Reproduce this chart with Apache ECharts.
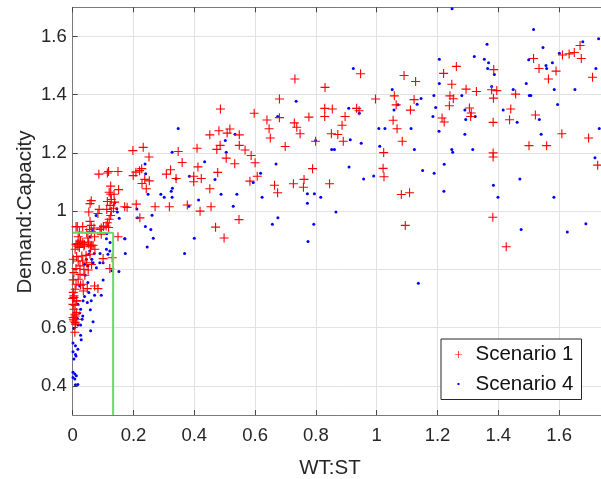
<!DOCTYPE html>
<html>
<head>
<meta charset="utf-8">
<script src="https://cdn.jsdelivr.net/npm/echarts@6/dist/echarts.min.js"></script>
<style>html,body{margin:0;padding:0;background:#fff;}#c{width:601px;height:479px;}</style>
</head>
<body>
<div id="c"></div>
<script>
// ---- data (WT:ST, Demand:Capacity) ----
const seriesNames = ['Scenario 1', 'Scenario 4'];
const xTitle = 'WT:ST';
const yTitle = 'Demand:Capacity';

const scenario1 = [
[0.731,1.454],[0.830,1.425],[0.947,1.472],[1.090,1.466],[1.128,1.445],[1.262,1.497],[1.220,1.473],[1.247,1.436],[1.294,1.419],[1.328,1.411],
[1.385,1.486],[1.378,1.417],[1.395,1.414],[1.384,1.388],[1.457,1.402],[1.516,1.524],[1.534,1.490],[1.565,1.454],[1.590,1.481],[1.611,1.536],
[1.633,1.540],[1.650,1.545],[1.669,1.569],[1.673,1.524],[1.710,1.460],[1.697,1.251],[1.727,1.158],[1.609,1.266],[1.559,1.225],[1.501,1.225],
[1.522,1.330],[1.441,1.351],[1.437,1.314],[1.383,1.305],[1.383,1.200],[1.383,1.186],[1.311,1.337],[1.305,1.354],[1.309,1.325],[1.239,1.362],
[1.215,1.320],[1.222,1.306],[1.241,1.396],[1.252,1.386],[1.123,1.383],[1.111,1.347],[1.058,1.396],[1.064,1.365],[1.054,1.312],[1.067,1.283],
[1.084,1.240],[0.996,1.385],[0.934,1.353],[0.942,1.345],[0.896,1.325],[0.886,1.295],[0.851,1.266],[0.872,1.263],[0.890,1.240],[0.829,1.353],
[0.854,1.351],[0.829,1.325],[0.777,1.323],[0.729,1.303],[0.737,1.288],[0.748,1.266],[0.799,1.240],[0.699,1.222],[0.680,1.385],[0.680,1.321],
[0.639,1.313],[0.646,1.283],[0.650,1.251],[0.597,1.336],[0.486,1.351],[0.451,1.262],[0.481,1.276],[0.508,1.268],[0.517,1.282],[0.548,1.262],
[0.485,1.226],[0.474,1.212],[0.548,1.226],[0.567,1.210],[0.505,1.182],[0.533,1.163],[0.587,1.191],[0.600,1.166],[0.607,1.120],[0.583,1.103],
[0.477,1.133],[0.451,1.077],[0.409,1.216],[0.412,1.152],[0.398,1.120],[0.423,1.112],[0.398,1.101],[0.360,1.167],[0.347,1.205],[0.322,1.142],
[0.308,1.127],[0.340,1.112],[0.664,1.089],[0.674,1.063],[0.726,1.094],[0.761,1.109],[0.759,1.082],[0.789,1.146],[0.845,1.094],[1.023,1.201],
[1.021,1.147],[1.024,1.118],[1.081,1.057],[1.108,1.063],
[1.094,0.951],[1.382,0.979],[1.426,0.878],[0.271,1.015],[0.318,1.015],[0.377,1.021],[0.419,1.000],[0.455,1.015],[0.470,0.945],[0.498,0.908],[0.547,0.971],
[0.232,1.219],[0.251,1.186],[0.198,1.208],[0.227,1.146],[0.220,1.139],[0.208,1.134],[0.199,1.122],[0.237,1.109],[0.252,1.104],[0.242,1.077],[0.209,1.024],[0.221,0.977],
[0.086,1.127],[0.118,1.136],[0.149,1.136],[0.114,1.131],[0.228,1.095],[0.125,1.086],[0.151,1.074],[0.120,1.065],[0.125,1.058],[0.136,1.058],
[0.061,1.036],[0.057,1.026],[0.114,1.033],[0.127,1.040],[0.138,1.031],[0.123,1.020],[0.134,1.010],[0.112,1.006],[0.127,0.999],[0.171,1.015],
[0.179,1.013],[0.053,0.997],[0.087,1.006],[0.083,0.992],[0.125,0.985],[0.120,0.972],[0.114,0.960],[0.057,0.965],[0.061,0.951],[0.015,0.947],
[0.033,0.947],[0.070,0.942],[0.094,0.942],[0.110,0.949],[0.118,0.944],[0.149,0.912],[0.022,0.928],[0.046,0.926],[0.050,0.908],[0.024,0.894],
[0.072,0.912],[0.094,0.921],[0.061,0.930],[0.017,0.880],[0.039,0.885],[0.061,0.883],
[0.017,0.889],[0.033,0.892],[0.053,0.887],[0.067,0.883],[0.100,0.837],[0.122,0.803],[0.130,0.840],[0.083,0.734],[0.072,0.743],[0.048,0.734],
[0.034,0.749],[0.004,0.709],[0.000,0.700],[0.012,0.692],[0.001,0.680],[0.007,0.646],[0.001,0.635],[0.012,0.629],[0.004,0.623],[0.009,0.612],[0.007,0.584],
[0.018,0.912],[0.026,0.897],[0.011,0.886],[0.008,0.869],[0.022,0.875],[0.037,0.880],[0.051,0.894],[0.059,0.878],[0.073,0.869],[0.057,0.852],
[0.044,0.848],[0.030,0.846],[0.013,0.844],[0.002,0.835],[0.018,0.829],[0.033,0.829],[0.046,0.823],[0.062,0.817],[0.024,0.812],[0.011,0.803],
[0.037,0.800],[0.051,0.798],[0.004,0.789],[0.024,0.783],[0.040,0.780],[0.018,0.766],[0.002,0.764],[0.011,0.749],[0.026,0.746],[0.008,0.732],
[0.035,0.726],[0.002,0.721],[0.004,0.703],[0.013,0.692],[0.008,0.677],[0.004,0.663],[0.013,0.652],[0.008,0.640],[0.002,0.629],[0.008,0.618],
[0.011,0.947],[0.055,0.937],[0.090,0.937],[0.101,0.947]
];

const scenario4 = [
[0.111,0.869],[0.122,0.863],[0.116,0.852],[0.089,0.823],[0.100,0.823],[0.056,0.863],[0.053,0.852],[0.045,0.835],[0.039,0.818],[0.050,0.812],
[0.067,0.823],[0.078,0.806],[0.129,0.795],[0.152,0.793],[0.173,0.855],[0.100,0.764],[0.094,0.711],[0.072,0.711],[0.053,0.721],[0.061,0.692],
[0.048,0.686],[0.034,0.692],[0.017,0.680],[0.026,0.663],[0.058,0.661],[0.023,0.650],[0.033,0.640],[0.015,0.632],[0.031,0.629],[0.067,0.620],
[0.004,0.597],[0.017,0.609],[0.026,0.609],[0.059,0.589],[0.026,0.574],[0.028,0.558],[0.001,0.547],[0.009,0.538],[0.017,0.526],[0.001,0.517],
[0.009,0.508],[0.004,0.492],[0.011,0.503],[0.001,0.447],[0.007,0.441],[0.012,0.435],[0.001,0.429],[0.007,0.424],[0.009,0.404],[0.017,0.405],
[0.041,0.780],[0.050,0.755],[0.023,0.743],[0.039,0.707],[0.172,0.905],[0.123,0.892],
[0.153,0.976],[0.171,0.905],[0.111,0.905],[0.066,0.937],[0.138,1.029],[0.145,1.008],[0.147,0.997],[0.077,0.985],[0.057,0.912],
[0.071,0.855],[0.090,0.855],[0.063,0.835],[0.112,0.923],[0.240,1.128],
[0.347,1.284],[0.327,1.202],[0.238,1.162],[0.434,1.170],[0.502,1.243],[0.534,1.264],[0.505,1.202],[0.669,1.162],[0.674,1.325],[0.618,1.130],
[0.594,1.098],[0.468,1.109],[0.384,1.120],[0.340,1.111],[0.328,1.079],[0.324,1.068],[0.327,1.048],[0.290,1.058],[0.301,1.048],[0.248,1.058],
[0.414,1.038],[0.488,1.058],[0.540,1.058],[0.623,1.048],[0.528,1.017],[0.382,1.017],[0.211,1.007],[0.213,0.977],[0.261,0.986],[0.239,0.947],
[0.257,0.937],[0.265,0.907],[0.245,0.877],[0.400,0.907],[0.675,0.977],[0.657,0.955],
[0.735,1.377],[0.799,1.243],[0.908,1.353],[0.923,1.490],[0.943,1.336],[0.913,1.245],[0.949,1.233],[0.852,1.212],[0.861,1.212],[0.772,1.060],
[0.795,1.060],[0.816,1.048],[0.909,1.152],[0.957,1.110],[0.990,1.121],[1.010,1.223],[1.007,1.284],[1.027,1.284],[1.051,1.418],[1.070,1.365],
[1.057,1.347],[1.113,1.284],[1.124,1.212],[1.133,1.367],[1.146,1.387],[1.151,1.140],[1.189,1.130],[1.206,1.522],[1.206,1.438],[1.188,1.397],
[1.194,1.356],[1.185,1.325],[1.205,1.274],[1.222,1.161],[1.221,1.068],[1.247,1.212],[1.250,1.202],[1.248,1.695],[1.280,1.397],[1.290,1.347],
[1.293,1.315],[1.321,1.531],[1.316,1.212],[1.290,1.264],[1.324,1.325],[1.354,1.522],[1.368,1.510],[1.363,1.573],[1.365,1.490],[1.387,1.469],
[1.378,1.428],[1.416,1.347],[1.449,1.418],[1.462,1.305],[1.471,1.110],[1.384,1.089],[1.399,1.048],[1.492,1.438],[1.502,1.397],[1.507,1.397],
[1.500,1.520],[1.516,1.624],[1.547,1.562],[1.557,1.500],[1.559,1.490],[1.578,1.510],[1.601,1.542],[1.584,1.418],[1.595,1.366],[1.535,1.315],
[1.541,1.264],[1.652,1.418],[1.678,1.582],[1.721,1.490],[1.730,1.592],[1.732,1.284],[1.718,1.183],[1.583,1.048],
[1.475,0.937],[1.627,0.928],[1.688,0.957],[1.137,0.752],[0.368,0.855],[0.772,1.027],[0.793,0.955],[0.774,0.896],[0.866,0.997]
];

// green threshold box (x = 0.133, y = 0.926)
const thresholdLine = [[0, 0.926], [0.133, 0.926], [0.133, 0.3]];

const xMin = 0, xMax = 1.8, xStep = 0.2;
const yMin = 0.3, yMax = 1.7;

const FONT = '"Liberation Sans", Arial, Helvetica, sans-serif';
const plusPath = 'path://M0,5L10,5M5,0L5,10';
const plusIcon = 'path://M0,4.5L10,4.5L10,5.5L0,5.5ZM4.5,0L5.5,0L5.5,10L4.5,10Z';
const dotPath = 'path://M0,0M10,10M3.6,3.6L6.4,3.6L6.4,6.4L3.6,6.4Z';

const chart = echarts.init(document.getElementById('c'), null, {renderer: 'canvas'});
const axisLineStyle = {color: '#7a7a7a', width: 1};
chart.setOption({
  animation: false,
  backgroundColor: '#ffffff',
  grid: {left: 72.7, top: 7.3, width: 304 * (xMax - xMin), height: 407.7, containLabel: false, outerBoundsMode: 'none'},
  xAxis: [{
    type: 'value', min: xMin, max: xMax, interval: xStep, position: 'bottom',
    axisLine: {show: true, lineStyle: axisLineStyle},
    axisTick: {show: true, inside: true, length: 5, lineStyle: {color: '#444'}},
    axisLabel: {color: '#262626', fontSize: 18.5, fontFamily: FONT, margin: 11},
    splitLine: {show: true, lineStyle: {color: '#e2e2e2', width: 1}}
  }, {
    type: 'value', min: xMin, max: xMax, interval: xStep, position: 'top',
    axisLine: {show: true, onZero: false, lineStyle: axisLineStyle},
    axisTick: {show: true, inside: true, length: 5, lineStyle: {color: '#444'}},
    axisLabel: {show: false}, splitLine: {show: false}
  }],
  yAxis: {
    type: 'value', min: yMin, max: yMax, splitNumber: 7,
    axisLine: {show: true, lineStyle: axisLineStyle},
    axisTick: {show: true, inside: true, length: 5, lineStyle: {color: '#444'}},
    axisLabel: {color: '#262626', fontSize: 18.5, fontFamily: FONT, margin: 6, showMinLabel: false, showMaxLabel: false,
      formatter: v => (Math.abs(v - yMin) < 1e-9 || Math.abs(v - yMax) < 1e-9) ? '' : String(+v.toFixed(1))},
    splitLine: {show: true, lineStyle: {color: '#e2e2e2', width: 1}}
  },
  legend: {
    orient: 'vertical', left: 441, top: 339,
    padding: [5, 8, 5, 14], itemGap: 8.5, itemWidth: 24, itemHeight: 7,
    backgroundColor: '#ffffff', borderColor: '#262626', borderWidth: 1,
    textStyle: {fontSize: 20.5, fontFamily: FONT, color: '#111'},
    data: [
      {name: seriesNames[0], icon: plusIcon, itemStyle: {color: '#ff0000', borderWidth: 0}},
      {name: seriesNames[1], icon: dotPath, itemStyle: {color: '#0000ff', borderWidth: 0}}
    ]
  },
  graphic: [
    {type: 'text', x: 330, y: 468, z: 10, style: {text: xTitle, font: '20.5px ' + FONT, fill: '#262626', align: 'center', verticalAlign: 'middle'}},
    {type: 'text', x: 25, y: 212, rotation: Math.PI / 2, z: 10, style: {text: yTitle, font: '20.5px ' + FONT, fill: '#262626', align: 'center', verticalAlign: 'middle'}}
  ],
  series: [
    {
      name: seriesNames[1], type: 'scatter', data: scenario4, symbol: 'circle', symbolSize: 3,
      itemStyle: {color: '#0000ff', opacity: 1}, z: 2
    },
    {
      name: seriesNames[0], type: 'scatter', data: scenario1, symbol: plusPath, symbolSize: 9,
      itemStyle: {color: 'none', borderColor: '#ff0000', borderWidth: 1.1, opacity: 1}, z: 3
    },
    {
      name: 'threshold', type: 'line', data: thresholdLine, symbol: 'none', silent: true,
      lineStyle: {color: '#64dc64', width: 2}, z: 4
    }
  ]
});
</script>
</body>
</html>
